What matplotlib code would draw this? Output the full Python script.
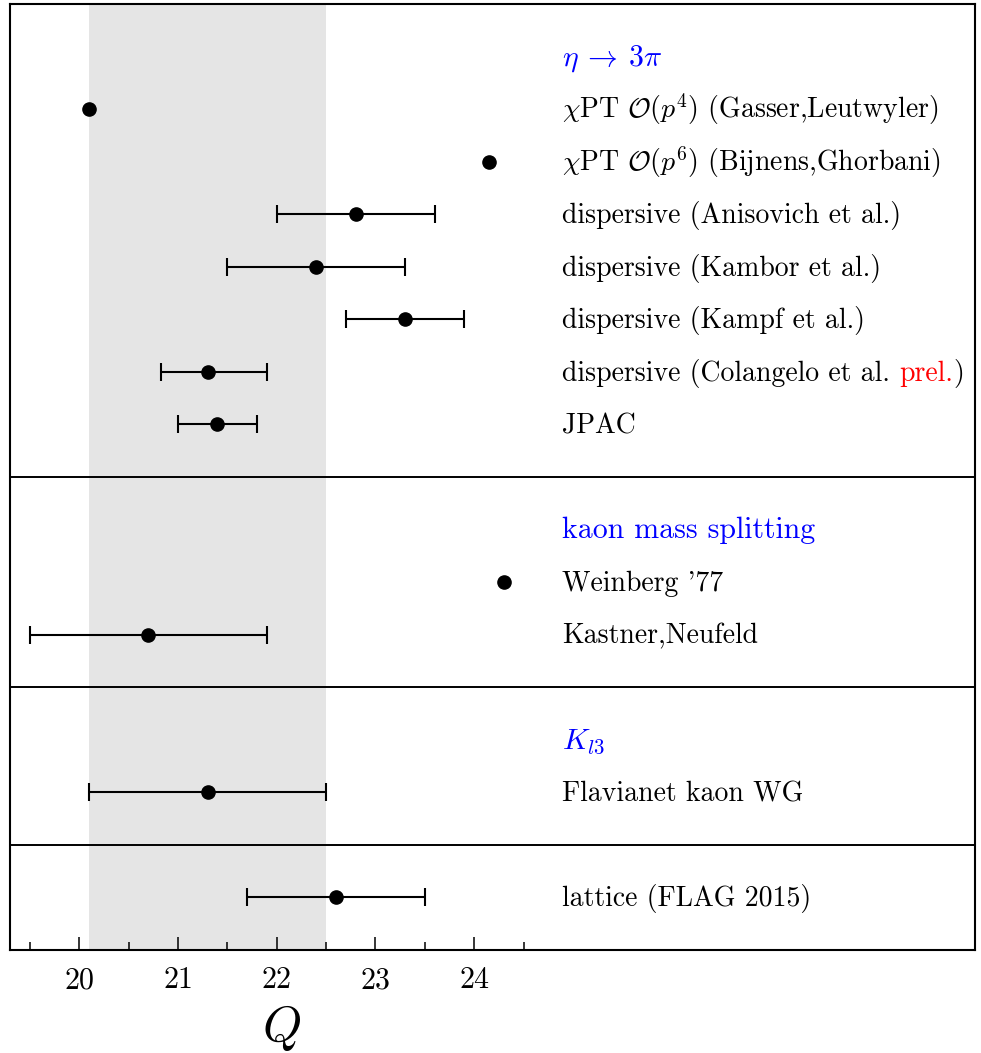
import matplotlib
matplotlib.use("Agg")
import matplotlib.pyplot as plt
import numpy as np

plt.rcParams['mathtext.fontset'] = 'cm'
plt.rcParams['font.family'] = 'serif'
plt.rcParams['font.serif'] = ['cmr10']
plt.rcParams['axes.formatter.use_mathtext'] = True

# ---- data ----
labels = [
    r'$\chi$PT $\mathcal{O}(p^4)$ (Gasser,Leutwyler)',
    r'$\chi$PT $\mathcal{O}(p^6)$ (Bijnens,Ghorbani)',
    'dispersive (Anisovich et al.)',
    'dispersive (Kambor et al.)',
    'dispersive (Kampf et al.)',
    'dispersive (Colangelo et al. ',
    'JPAC',
    "Weinberg '77",
    'Kastner,Neufeld',
    'Flavianet kaon WG',
    'lattice (FLAG 2015)',
]
q_central = [20.1, 24.15, 22.8, 22.4, 23.3, 21.3, 21.4, 24.3, 20.7, 21.3, 22.6]
q_low = [None, None, 22.0, 21.5, 22.7, 20.83, 21.0, None, 19.5, 20.1, 21.7]
q_high = [None, None, 23.6, 23.3, 23.9, 21.9, 21.8, None, 21.9, 22.5, 23.5]
rows = [2, 3, 4, 5, 6, 7, 8, 11, 12, 15, 17]

headers = [r'$\eta\:\rightarrow\:3\pi$', 'kaon mass splitting', r'$K_{l3}$']
header_rows = [1, 10, 14]
separators = [9, 13, 16]
band = (20.1, 22.5)
major_ticks = [20, 21, 22, 23, 24]
minor_ticks = [19.5, 20.5, 21.5, 22.5, 23.5, 24.5]

# ---- figure ----
W, H = 981, 1053
fig = plt.figure(figsize=(W / 100, H / 100), dpi=100)
ax = fig.add_axes([10 / W, (H - 950) / H, 965 / W, 946 / H])
ax.set_xlim(19.3, 29.07)
ax.set_ylim(18, 0)

ax.axvspan(band[0], band[1], color='#e5e5e5', lw=0, zorder=0)
for s in separators:
    ax.axhline(s, color='black', lw=1.4, zorder=1)

for lab, c, lo, hi, r in zip(labels, q_central, q_low, q_high, rows):
    if lo is not None:
        ax.errorbar([c], [r], xerr=[[c - lo], [hi - c]], fmt='o', color='black',
                    ms=9.5, elinewidth=1.5, capsize=6.3, capthick=1.5, zorder=3)
    else:
        ax.plot([c], [r], 'o', color='black', ms=9.5, zorder=3)

xt = 24.89
fs = 20
dy = 0.17
for lab, r in zip(labels, rows):
    t = ax.text(xt, r + dy, lab, fontsize=fs, va='baseline', ha='left', color='black')
    if lab.startswith('dispersive (Colangelo'):
        t2 = ax.annotate('prel.', xy=(1, r + dy), xycoords=(t, 'data'), fontsize=fs,
                         va='baseline', ha='left', color='#ff0000')
        ax.annotate(')', xy=(1, r + dy), xycoords=(t2, 'data'), fontsize=fs,
                    va='baseline', ha='left', color='black')

for h, r in zip(headers, header_rows):
    ax.text(xt, r + dy, h, fontsize=21.5, va='baseline', ha='left', color='#0000ff')

ax.set_yticks([])
ax.set_xticks(major_ticks)
ax.set_xticks(minor_ticks, minor=True)
ax.tick_params(axis='x', which='major', direction='in', length=9.5, width=1.1,
               labelsize=21.5, pad=12)
ax.tick_params(axis='x', which='minor', direction='in', length=5.8, width=1.1)
for sp in ax.spines.values():
    sp.set_linewidth(1.5)
ax.set_xlabel(r'$Q$', fontsize=36, labelpad=2)
ax.xaxis.set_label_coords((281 - 10) / 965, -0.056)
ax.xaxis.label.set_va('top')

fig.savefig('out.png', dpi=100)
